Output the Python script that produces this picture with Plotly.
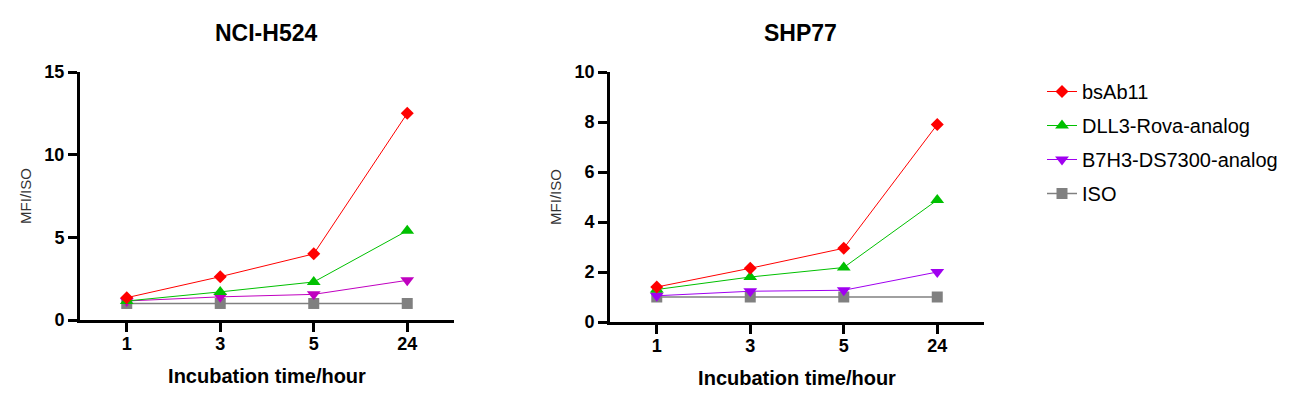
import plotly.graph_objects as go

# incubation time points (hours), shown as categories
hours = ["1", "3", "5", "24"]

series_names = ["bsAb11", "DLL3-Rova-analog", "B7H3-DS7300-analog", "ISO"]

# MFI/ISO ratios
h524_bsab11 = [1.35, 2.62, 4.0, 12.5]
h524_dll3 = [1.15, 1.7, 2.3, 5.4]
h524_b7h3 = [1.15, 1.4, 1.55, 2.4]
h524_iso = [1.0, 1.0, 1.0, 1.0]

shp77_bsab11 = [1.4, 2.15, 2.95, 7.9]
shp77_dll3 = [1.3, 1.8, 2.18, 4.88]
shp77_b7h3 = [1.05, 1.23, 1.27, 2.0]
shp77_iso = [1.0, 1.0, 1.0, 1.0]

colors_h524 = ["#FF0000", "#00C000", "#C000C0", "#808080"]
colors_shp77 = ["#FF0000", "#00C000", "#A000F0", "#808080"]
symbols = ["diamond", "triangle-up", "triangle-down", "square"]
sizes = [10, 12, 12, 11]

font = "Liberation Sans, Arial, sans-serif"

fig = go.Figure()

panels = [
    ("x", "y", [h524_bsab11, h524_dll3, h524_b7h3, h524_iso], colors_h524, False),
    ("x2", "y2", [shp77_bsab11, shp77_dll3, shp77_b7h3, shp77_iso], colors_shp77, True),
]
for xa, ya, values, cols, show in panels:
    # ISO drawn first so it sits underneath
    for i in [3, 2, 1, 0]:
        fig.add_trace(go.Scatter(
            x=hours, y=values[i], name=series_names[i],
            xaxis=xa, yaxis=ya,
            mode="lines+markers",
            line=dict(color=cols[i], width=1.5 if i == 3 else 1),
            marker=dict(symbol=symbols[i], size=sizes[i], color=cols[i]),
            showlegend=show, legendrank=i + 1, legendgroup=series_names[i],
        ))

axis_common = dict(
    showline=True, linecolor="black", linewidth=3,
    ticks="outside", tickwidth=3, ticklen=9, tickcolor="black",
    showgrid=False, zeroline=False, automargin=False,
    tickfont=dict(family=font, size=18, color="black", weight="bold"),
)
xtitle = dict(text="Incubation time/hour", standoff=17,
              font=dict(size=20, weight="bold"))
ytitle = dict(text="MFI/ISO", standoff=10,
              font=dict(size=15, color="#333333"))

# page body adds an 8px offset, so margins are set 8px smaller on left/top
fig.update_layout(
    width=1300, height=410,
    margin=dict(l=72, r=324, t=64, b=96, autoexpand=False),
    plot_bgcolor="white", paper_bgcolor="white",
    font=dict(family=font, color="black"),
    xaxis=dict(domain=[0, 0.4137], anchor="y", type="category",
               range=[-0.5, 3.5], ticklabelstandoff=-4,
               title=xtitle, **axis_common),
    yaxis=dict(domain=[0.008, 1], anchor="x", range=[0, 15],
               tickvals=[0, 5, 10, 15], title=ytitle, **axis_common),
    xaxis2=dict(domain=[0.5863, 1], anchor="y2", type="category",
                range=[-0.5, 3.5], ticklabelstandoff=-4,
                title=xtitle, **axis_common),
    yaxis2=dict(domain=[0, 1], anchor="x2", range=[0, 10],
                tickvals=[0, 2, 4, 6, 8, 10], title=ytitle, **axis_common),
    legend=dict(x=1034 / 1300, y=1 - 64 / 410, xref="container", yref="container",
                xanchor="left", yanchor="top",
                font=dict(size=20, color="black"),
                traceorder="grouped", tracegroupgap=5,
                bgcolor="rgba(0,0,0,0)"),
    annotations=[
        dict(text="NCI-H524", x=0.2058, y=1, yshift=39, xref="paper", yref="paper",
             xanchor="center", yanchor="middle", showarrow=False,
             font=dict(size=23, weight="bold")),
        dict(text="SHP77", x=0.7965, y=1, yshift=39, xref="paper", yref="paper",
             xanchor="center", yanchor="middle", showarrow=False,
             font=dict(size=23, weight="bold")),
    ],
)

fig.write_html("out.html")
